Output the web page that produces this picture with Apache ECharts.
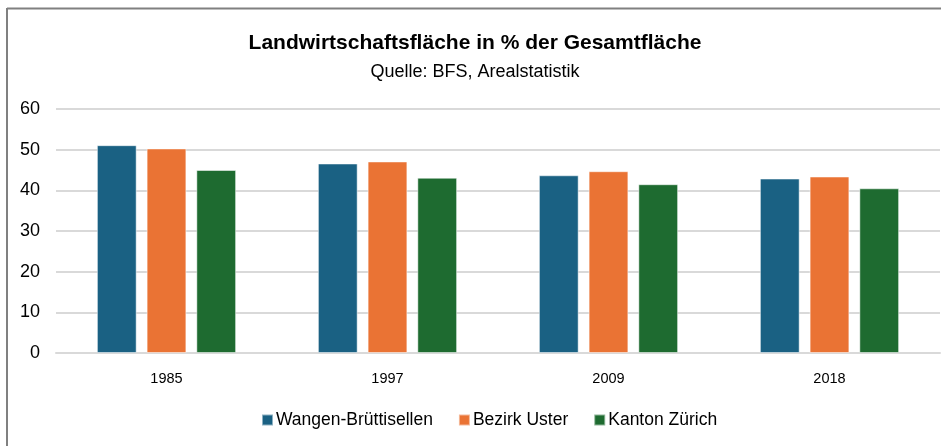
<!DOCTYPE html>
<html>
<head>
<meta charset="utf-8">
<script src="https://cdn.jsdelivr.net/npm/echarts@6/dist/echarts.min.js"></script>
<style>
  html, body { margin: 0; padding: 0; background: #fff; }
  #chart { width: 941px; height: 446px; }
</style>
</head>
<body>
<div id="chart"></div>
<script>
const years = ['1985', '1997', '2009', '2018']
const wangen = [51.1, 46.6, 43.7, 42.9]
const bezirk = [50.3, 47.1, 44.7, 43.4]
const kanton = [45.0, 43.1, 41.5, 40.5]
const yTicks = [0, 10, 20, 30, 40, 50, 60]

const chart = echarts.init(document.getElementById('chart'))

function makeBar(name, data, color) {
  return {
    name: name,
    type: 'bar',
    data: data,
    barGap: '25%',
    barCategoryGap: '37%',
    itemStyle: { color: color, borderColor: 'rgba(255,255,255,0.5)', borderWidth: 1 },
    emphasis: { disabled: true }
  }
}

chart.setOption({
  animation: false,
  textStyle: { fontFamily: 'Liberation Sans' },
  graphic: [
    { type: 'line', shape: { x1: 7, y1: 8.5, x2: 941, y2: 8.5 }, style: { stroke: '#808080', lineWidth: 2 } },
    { type: 'line', shape: { x1: 7, y1: 8, x2: 7, y2: 446 }, style: { stroke: '#808080', lineWidth: 2 } }
  ],
  title: {
    text: 'Landwirtschaftsfläche in % der Gesamtfläche',
    subtext: 'Quelle: BFS, Arealstatistik',
    left: 470,
    textAlign: 'center',
    top: 28,
    itemGap: 9,
    textStyle: { fontSize: 21, fontWeight: 'bold', color: '#000', fontFamily: 'Liberation Sans' },
    subtextStyle: { fontSize: 18, color: '#000', fontFamily: 'Liberation Sans' }
  },
  legend: {
    bottom: 12,
    left: 256,
    itemWidth: 11,
    itemHeight: 11,
    itemGap: 25,
    icon: 'rect',
    textStyle: { fontSize: 17.5, color: '#000', padding: [0, 0, 0, -2] },
    data: ['Wangen-Brüttisellen', 'Bezirk Uster', 'Kanton Zürich']
  },
  grid: { left: 56, right: 1, top: 109, bottom: 93 },
  xAxis: {
    type: 'category',
    data: years,
    axisLine: { lineStyle: { color: '#d9d9d9', width: 2 } },
    axisTick: { show: false },
    axisLabel: { fontSize: 14.5, color: '#000', margin: 18 }
  },
  yAxis: {
    type: 'value',
    min: yTicks[0],
    max: yTicks[yTicks.length - 1],
    interval: 10,
    axisLine: { show: false },
    axisTick: { show: false },
    axisLabel: { fontSize: 18, color: '#000', margin: 16 },
    splitLine: { lineStyle: { color: '#d9d9d9', width: 2 } }
  },
  series: [
    makeBar('Wangen-Brüttisellen', wangen, '#1a6183'),
    makeBar('Bezirk Uster', bezirk, '#ea7334'),
    makeBar('Kanton Zürich', kanton, '#1e6b30')
  ]
})
</script>
</body>
</html>
